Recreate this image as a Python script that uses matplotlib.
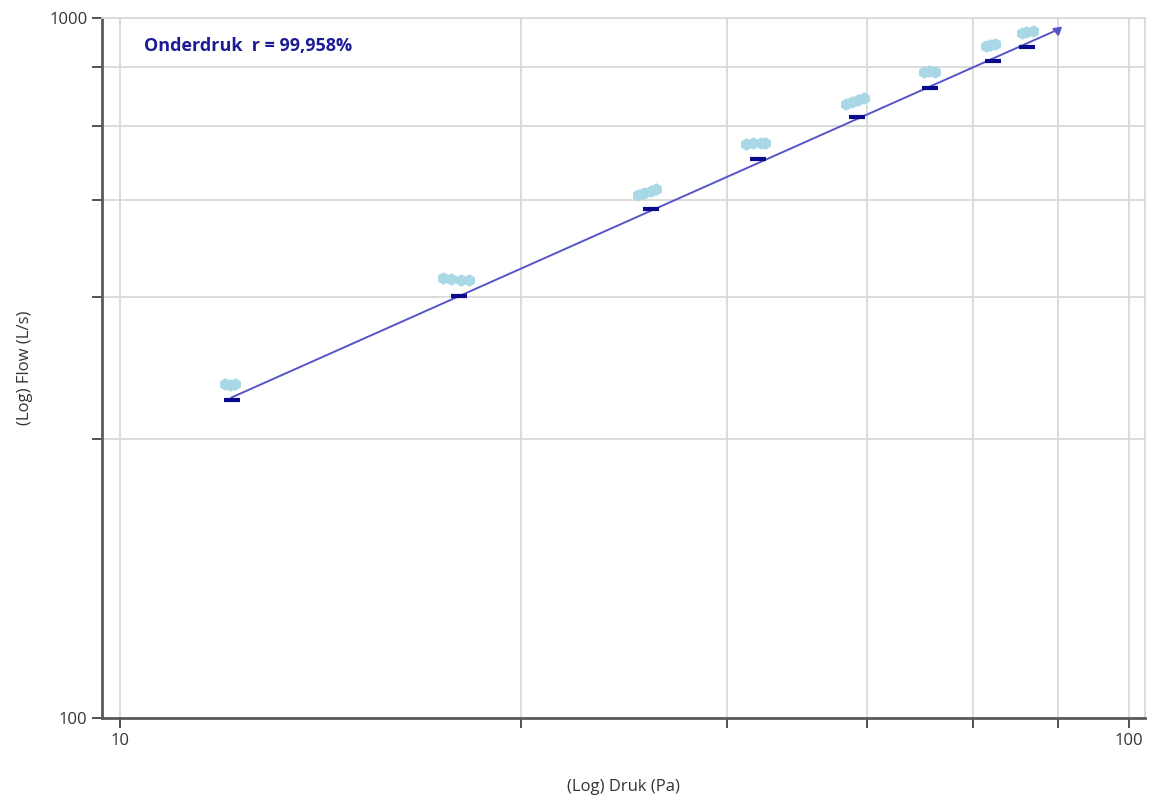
import numpy as np
import matplotlib.pyplot as plt
from matplotlib.ticker import FixedLocator, NullLocator

# gemeten punten (Pa, L/s)
meet_druk = [12.7, 12.85, 13.0,
             20.9, 21.3, 21.8, 22.2,
             32.6, 33.1, 33.6, 34.0,
             41.7, 42.4, 43.2, 43.6,
             52.4, 53.1, 53.9, 54.6,
             62.6, 63.3, 64.2,
             72.2, 72.9, 73.7,
             78.3, 79.1, 80.3]
meet_flow = [300, 299, 300,
             425, 424, 423, 423,
             559, 563, 566, 569,
             660, 663, 663, 662,
             754, 758, 764, 768,
             837, 839, 838,
             913, 916, 917,
             953, 956, 957]

# berekende punten op de regressielijn
fit_druk = [12.9, 21.7, 33.6, 42.9, 53.7, 63.5, 73.3, 79.2]
fit_flow = [285, 401, 533, 629, 722, 794, 868, 909]

# regressielijn begin/eind
lijn_druk = [12.9, 84.8]
lijn_flow = [287, 961]

x_ticks = [10, 25, 40, 55, 70, 85, 100]
y_ticks = [100, 250, 400, 550, 700, 850, 1000]
label = "Onderdruk  r = 99,958%"

plt.rcParams['font.family'] = ['Open Sans', 'DejaVu Sans']

fig = plt.figure(figsize=(11.53, 8), dpi=100)
ax = fig.add_axes([0.0885, 0.1025, 0.9045, 0.875])

ax.set_xscale('log')
ax.set_yscale('log')
ax.set_xlim(9.6, 103.7)
ax.set_ylim(100, 1000)

ax.xaxis.set_major_locator(FixedLocator(x_ticks))
ax.yaxis.set_major_locator(FixedLocator(y_ticks))
ax.xaxis.set_minor_locator(NullLocator())
ax.yaxis.set_minor_locator(NullLocator())
ax.set_xticklabels(['10' if v == 10 else '100' if v == 100 else '' for v in x_ticks])
ax.set_yticklabels(['100' if v == 100 else '1000' if v == 1000 else '' for v in y_ticks])
ax.tick_params(direction='out', length=7, width=1.2, color='#333333',
               labelsize=12, labelcolor='#333333')

ax.grid(True, color='#d9d9d9', linewidth=1.3)
ax.set_axisbelow(True)

for s in ['top', 'right']:
    ax.spines[s].set_color('#d9d9d9')
    ax.spines[s].set_linewidth(1.3)
for s in ['left', 'bottom']:
    ax.spines[s].set_color('#5a5a5a')
    ax.spines[s].set_linewidth(2)

ax.plot(lijn_druk, lijn_flow, color='#5555c8', linewidth=1.4, zorder=3)
ax.plot(lijn_druk[-1:], lijn_flow[-1:], marker=(3, 0, 190), markersize=7,
        color='#5555c8', linestyle='none', zorder=3)

ax.plot(meet_druk, meet_flow, linestyle='none', marker='h', markersize=9,
        color='#a8d8e6', markeredgewidth=0, zorder=4)
ax.plot(fit_druk, fit_flow, linestyle='none', marker='_', markersize=12,
        markeredgewidth=3, color='#0a0a8c', zorder=5)

ax.text(0.04, 0.96, label, transform=ax.transAxes, fontsize=13,
        fontweight='bold', color='#1c1c96', va='center', ha='left')

ax.set_xlabel('(Log) Druk (Pa)', fontsize=12, color='#333333', labelpad=22)
ax.set_ylabel('(Log) Flow (L/s)', fontsize=12, color='#333333', labelpad=12)

fig.savefig('out.png', dpi=100)
